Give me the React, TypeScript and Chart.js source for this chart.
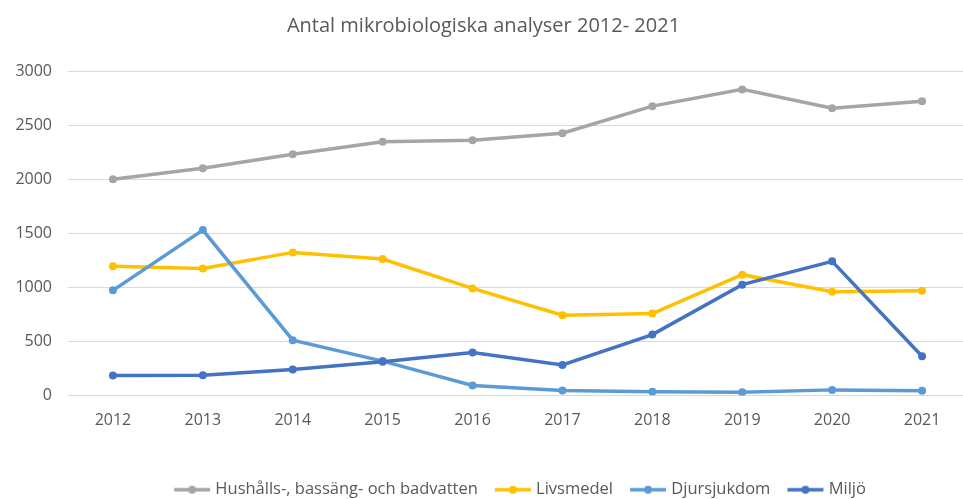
import React, { useEffect, useRef } from "react";
import { Chart, registerables } from "chart.js";

Chart.register(...registerables);

const title = "Antal mikrobiologiska analyser 2012- 2021";
const years = ["2012", "2013", "2014", "2015", "2016", "2017", "2018", "2019", "2020", "2021"];
const seriesNames = ["Hushålls-, bassäng- och badvatten", "Livsmedel", "Djursjukdom", "Miljö"];
const hushall = [2000, 2100, 2230, 2345, 2360, 2425, 2675, 2830, 2655, 2720];
const livsmedel = [1195, 1175, 1323, 1262, 990, 742, 757, 1117, 960, 968];
const djursjukdom = [972, 1529, 511, 318, 92, 46, 34, 31, 52, 43];
const miljo = [185, 188, 240, 311, 397, 283, 563, 1025, 1240, 363];
const colors = ["#A5A5A5", "#FFC000", "#5B9BD5", "#4472C4"];
const yTicks = [0, 500, 1000, 1500, 2000, 2500, 3000];

const FONT = "'Open Sans', 'Liberation Sans', sans-serif";

// legend symbol: transparent left part, line + dot drawn in the right part
function legendSymbol(color: string) {
  const c = document.createElement("canvas");
  c.width = 50;
  c.height = 10;
  const ctx = c.getContext("2d")!;
  ctx.strokeStyle = color;
  ctx.lineWidth = 3.5;
  ctx.beginPath();
  ctx.moveTo(11, 5);
  ctx.lineTo(47, 5);
  ctx.stroke();
  ctx.fillStyle = color;
  ctx.beginPath();
  ctx.arc(29, 5, 4, 0, Math.PI * 2);
  ctx.fill();
  return c;
}

export default function App() {
  const ref = useRef<HTMLCanvasElement | null>(null);
  useEffect(() => {
    if (!ref.current) return;
    const values = [hushall, livsmedel, djursjukdom, miljo];
    const symbols = colors.map(legendSymbol);
    const chart = new Chart(ref.current, {
      type: "line",
      data: {
        labels: years,
        datasets: values.map((v, i) => ({
          label: seriesNames[i],
          data: v,
          borderColor: colors[i],
          backgroundColor: colors[i],
          borderWidth: 3.5,
          pointRadius: 4,
          pointBorderWidth: 0,
          pointBackgroundColor: colors[i],
          tension: 0,
          order: 10 - i,
        })),
      },
      options: {
        responsive: false,
        animation: false,
        devicePixelRatio: 1,
        layout: { padding: { left: 0, right: 5, top: 0, bottom: 0 } },
        plugins: {
          title: {
            display: true,
            text: title,
            color: "#595959",
            font: { family: FONT, size: 20, weight: "normal", lineHeight: 1.2 },
            padding: { top: 14.5, bottom: 32.5 },
          },
          legend: {
            position: "bottom",
            fullSize: false,
            labels: {
              color: "#595959",
              font: { family: FONT, size: 16.5 },
              usePointStyle: true,
              pointStyleWidth: 38,
              padding: 12,
              sort: (a: any, b: any) => a.datasetIndex - b.datasetIndex,
              generateLabels: (ch: any) => {
                const items = Chart.defaults.plugins.legend.labels.generateLabels(ch);
                items.forEach((it: any) => {
                  it.pointStyle = symbols[it.datasetIndex];
                });
                return items;
              },
            },
          },
          tooltip: { enabled: false },
        },
        scales: {
          x: {
            offset: true,
            grid: { display: false, drawTicks: false },
            border: { display: false },
            ticks: { color: "#595959", font: { family: FONT, size: 16 }, padding: 15 },
            afterFit: (s: any) => {
              s.height = 74;
            },
          },
          y: {
            min: 0,
            max: 3000,
            afterBuildTicks: (s: any) => {
              s.ticks = yTicks.map((v) => ({ value: v }));
            },
            grid: { color: "#D9D9D9", lineWidth: 1, drawTicks: false },
            border: { display: false },
            ticks: {
              color: "#595959",
              font: { family: FONT, size: 16 },
              padding: 16,
              callback: (v: any) => String(v),
            },
            afterFit: (s: any) => {
              s.width = 68;
            },
          },
        },
      },
    });
    return () => chart.destroy();
  }, []);
  return (
    <div style={{ position: "fixed", left: 0, top: 0, width: 963, height: 499, overflow: "hidden", background: "#fff" }}>
      <canvas ref={ref} width={972} height={508} style={{ display: "block" }} />
    </div>
  );
}
